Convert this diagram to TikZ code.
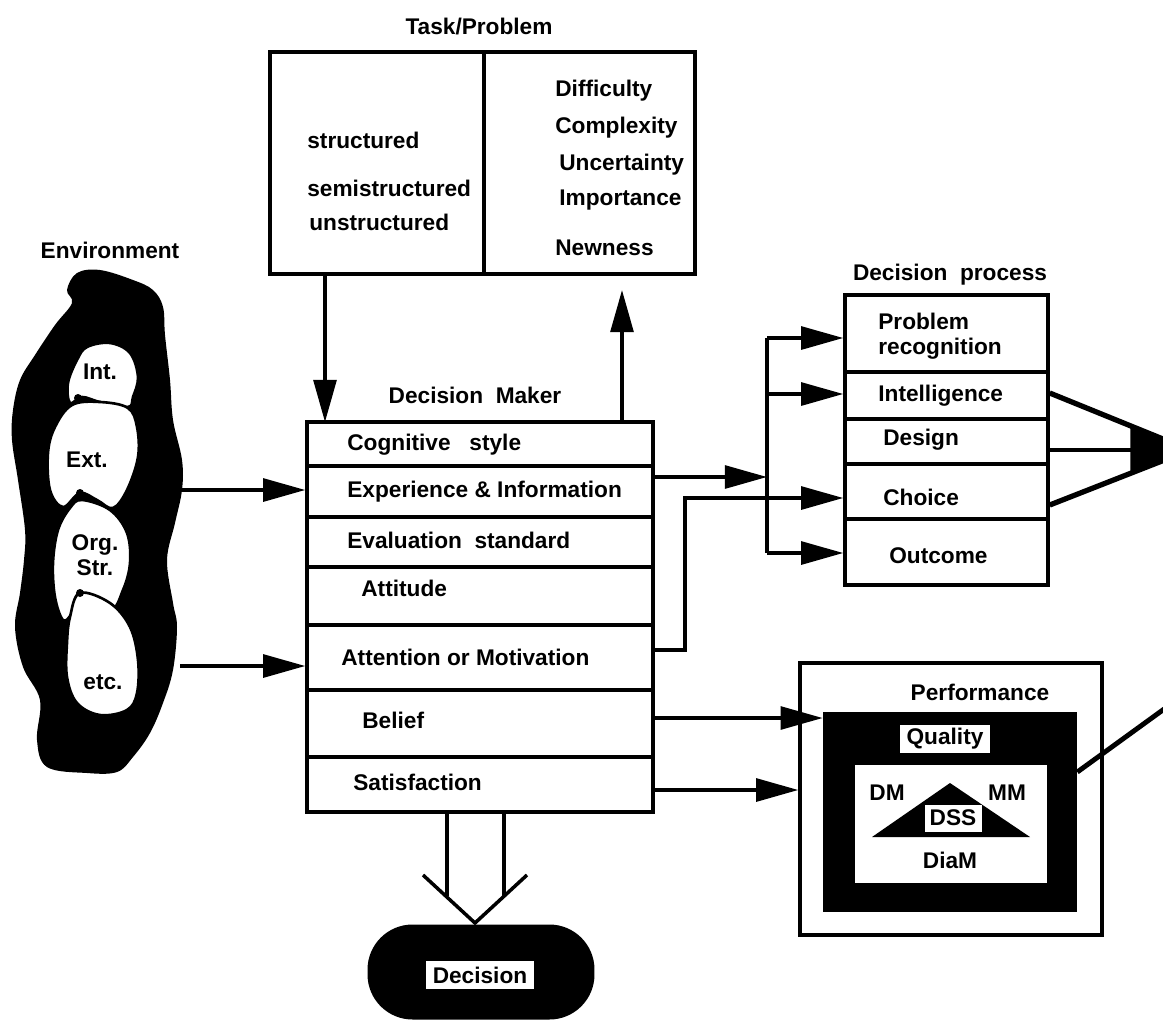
\documentclass[tikz,border=0pt]{standalone}
\usepackage{fontspec}
\setmainfont{Liberation Sans}
\usetikzlibrary{arrows.meta,calc}
\tikzset{
	box/.style={draw, line width=2pt, inner sep=0pt},
	lbl/.style={font=\bfseries\fontsize{12.9}{14}\selectfont, inner sep=0pt},
	wire/.style={line width=2pt},
	arr/.style={line width=2pt, -{Triangle[length=24pt,width=13pt]}}
}

\begin{document}
\begin{tikzpicture}[x=0.02cm, y=-0.02cm]
		\useasboundingbox (0,0) rectangle (1163,1025);
		\clip (0,0) rectangle (1163,1025);

		% environment
		\node[lbl] (env) at (110,250) {Environment};
		\fill[black] plot[smooth cycle, tension=0.6] coordinates {
			(67,290) (77,273) (100,270) (133,280) (153,290) (163,307) (165,335)
			(170,380) (173,420) (182,460) (182,490) (175,523) (167,560) (173,603)
			(177,627) (173,670) (163,703) (150,733) (133,757) (117,772) (87,773)
			(47,767) (37,740) (40,700) (23,667) (15,627) (20,593) (24,560) (25,530)
			(18,480) (12,440) (13,410) (20,380) (35,355) (55,325) (72,303)};
		\filldraw[fill=white, line width=1.5pt] plot[smooth cycle, tension=0.6] coordinates {
			(87,347) (110,343) (130,353) (138,377) (133,397) (128,407) (100,402)
			(82,397) (70,403) (68,383) (77,360)};
		\filldraw[fill=white, line width=1.5pt] plot[smooth cycle, tension=0.6] coordinates {
			(72,405) (100,402) (128,408) (137,427) (138,457) (127,490) (113,508)
			(97,500) (80,493) (63,507) (50,490) (48,453) (55,427)};
		\filldraw[fill=white, line width=1.5pt] plot[smooth cycle, tension=0.6] coordinates {
			(82,500) (110,510) (127,533) (130,563) (123,590) (110,610) (80,593)
			(72,613) (63,620) (55,597) (53,563) (58,530) (70,508)};
		\filldraw[fill=white, line width=1.5pt] plot[smooth cycle, tension=0.6] coordinates {
			(80,593) (110,603) (130,627) (138,660) (137,693) (127,710) (100,715)
			(77,703) (67,677) (67,643) (70,617)};
		\fill [black]	(78,398) circle (4)
						(80,493) circle (4)
						(80,593) circle (4);
		\node[lbl] (int) at (100,372) {Int.};
		\node[lbl] (ext) at (87,460) {Ext.};
		\node[lbl, align=center] (org) at (95,555) {Org.\\Str.};
		\node[lbl] (etc) at (103,682) {etc.};

		% task / problem
		\node[lbl] (tasktitle) at (479,27) {Task/Problem};
		\node[box, minimum width=8.5cm, minimum height=4.44cm] (task) at (482.5,163) {};
		\draw[wire] (task.north -| 484,0) -- (task.south -| 484,0);
		\node[lbl, anchor=west] (struct) at (307,140) {structured};
		\node[lbl, anchor=west] (semi) at (307,188) {semistructured};
		\node[lbl, anchor=west] (unstr) at (309,222) {unstructured};
		\node[lbl, anchor=west] (diff) at (555,91) {Difficulty};
		\node[lbl, anchor=west] (compl) at (555,128) {Complexity};
		\node[lbl, anchor=west] (uncert) at (559,165) {Uncertainty};
		\node[lbl, anchor=west] (import) at (559,200) {Importance};
		\node[lbl, anchor=west] (newn) at (555,248) {Newness};

		% decision maker
		\node[lbl] (dmtitle) at (475,395) {Decision\ \ Maker};
		\node[box, minimum width=6.92cm, minimum height=7.8cm] (dm) at (480,617) {};
		\foreach \y in {466,517,567,625,690,757}
			\draw[wire] (dm.west |- 0,\y) -- (dm.east |- 0,\y);
		\node[lbl, anchor=west] (cog) at (347,445) {Cognitive\ \ \ style};
		\node[lbl, anchor=west] (exp) at (347,492) {Experience \& Information};
		\node[lbl, anchor=west] (eval) at (347,540) {Evaluation\ \ standard};
		\node[lbl, anchor=west] (att) at (361,588) {Attitude};
		\node[lbl, anchor=west] (motiv) at (341,657) {Attention or Motivation};
		\node[lbl, anchor=west] (belief) at (362,720) {Belief};
		\node[lbl, anchor=west] (satis) at (353,782) {Satisfaction};

		\coordinate (dmin) at (325,422);
		\coordinate (tup) at (622,290);
		\draw[arr] (task.south -| dmin) -- (dmin);
		\draw[arr] (dm.north -| tup) -- (tup);
		\draw[arr] (182,490) -- (dm.west |- 0,490);
		\draw[arr] (180,666) -- (dm.west |- 0,666);

		% decision process
		\node[lbl] (dptitle) at (950,275) {Decision\ \ process};
		\node[box, minimum width=4.06cm, minimum height=5.8cm] (dp) at (946.5,440) {};
		\foreach \y in {372,419,464,519}
			\draw[wire] (dp.west |- 0,\y) -- (dp.east |- 0,\y);
		\node[lbl, anchor=west, align=left] (prob) at (878,336) {Problem\\recognition};
		\node[lbl, anchor=west] (intel) at (878,396) {Intelligence};
		\node[lbl, anchor=west] (design) at (883,440) {Design};
		\node[lbl, anchor=west] (choice) at (883,497) {Choice};
		\node[lbl, anchor=west] (outc) at (889,556) {Outcome};

		\coordinate (bus) at (767,0);
		\draw[wire] (bus |- 0,338) -- (bus |- 0,553);
		\draw[arr] (bus |- 0,338) -- (dp.west |- 0,338);
		\draw[arr] (bus |- 0,394) -- (dp.west |- 0,394);
		\draw[arr] (bus |- 0,553) -- (dp.west |- 0,553);
		\draw[arr] (dm.east |- 0,477) -- (bus |- 0,477);
		\draw[arr] (dm.east |- 0,650) -- (685,650) -- (685,498) -- (dp.west |- 0,498);

		\coordinate (conv) at (1190,450);
		\draw[line width=3pt] (dp.east |- 0,393) -- (conv);
		\draw[line width=3pt] (dp.east |- 0,505) -- (conv);
		\draw[line width=2.5pt, -{Triangle[length=34pt,width=28pt]}] (dp.east |- 0,450) -- (conv);

		% performance
		\node[box, minimum width=6.04cm, minimum height=5.44cm] (perf) at (951,799) {};
		\node[lbl] (perftitle) at (980,692) {Performance};
		\node[fill=black, minimum width=5.08cm, minimum height=4cm, inner sep=0pt] (pblk) at (950,812) {};
		\node[lbl, fill=white, minimum width=1.8cm, minimum height=0.56cm] (qual) at (945,739) {Quality};
		\node[fill=white, minimum width=3.84cm, minimum height=2.36cm, inner sep=0pt] (pwht) at (951,824) {};
		\fill[black] (872,837) -- (950,783) -- (1030,837) -- cycle;
		\node[lbl, fill=white, minimum width=1.14cm, minimum height=0.54cm] (dss) at (953,818) {DSS};
		\node[lbl] (dmk) at (887,793) {DM};
		\node[lbl] (mm) at (1007,793) {MM};
		\node[lbl] (diam) at (950,860) {DiaM};

		\draw[arr] (dm.east |- 0,718) -- (pblk.west |- 0,718);
		\draw[arr] (dm.east |- 0,790) -- (perf.west |- 0,790);
		\draw[line width=2.8pt] (pblk.east |- 0,772) -- (1200,683);

		% decision
		\node[fill=black, rounded corners=0.9cm, minimum width=4.54cm, minimum height=1.9cm] (dec) at (481,972) {};
		\node[lbl, fill=white, inner xsep=4pt, inner ysep=3pt] (declbl) at (480,975) {Decision};
		\draw[wire] (dm.south -| 447,0) -- (447,896);
		\draw[wire] (dm.south -| 504,0) -- (504,896);
		\draw[wire, line join=miter] (423,875) -- (475,923) -- (527,875);
	\end{tikzpicture}
\end{document}
